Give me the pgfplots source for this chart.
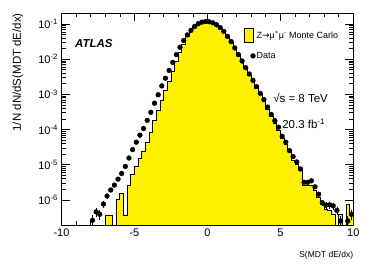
\documentclass[border=0pt]{standalone}
\usepackage{pgfplots}
\pgfplotsset{compat=1.18}
\usepackage{fontspec}
\setmainfont{Liberation Sans}
\newfontfamily\dejavu{DejaVu Sans}
\begin{document}
\begin{tikzpicture}
\begin{axis}[
  at={(0,0)}, anchor=south west,
  scale only axis, width=291.8pt, height=212pt,
  ymode=log, log origin y=infty,
  xmin=-10, xmax=10, ymin=1.93e-7, ymax=0.206,
  xtick={-10,-5,0,5,10}, minor x tick num=4,
  ytick={1e-6,1e-5,1e-4,1e-3,1e-2,1e-1},
  yticklabels={10\textsuperscript{-6},10\textsuperscript{-5},10\textsuperscript{-4},10\textsuperscript{-3},10\textsuperscript{-2},10\textsuperscript{-1}},
  /pgf/number format/assume math mode=true,
  tick label style={font=\fontsize{11}{13}\selectfont},
  major tick length=8pt, minor tick length=4pt,
  tick style={black, line width=0.6pt},
  axis line style={line width=0.8pt},
  xlabel={S(MDT dE/dx)},
  ylabel={1/N dN/dS(MDT dE/dx)},
  x label style={at={(axis description cs:1,0)}, anchor=east, yshift=-30pt, inner sep=0pt, font=\fontsize{8.5}{10}\selectfont},
  y label style={at={(axis description cs:-0.149,1)}, anchor=east, inner sep=0pt, font=\fontsize{11.5}{13}\selectfont},
  legend style={at={(axis description cs:0.625,0.93)}, anchor=north west, draw=none, fill=none, inner sep=0pt, row sep=8pt, font=\fontsize{9}{11}\selectfont, nodes={inner sep=1.2pt}},
  legend cell align=left,
]
\addplot[const plot, fill=yellow, draw=black, line width=0.8pt,
  legend image code/.code={\draw[fill=yellow,draw=black,line width=0.8pt] (0pt,-7pt) rectangle (9pt,7pt);}]
table[row sep=\\] {
x y\\
-10 1e-10\\
-7.0 3.7e-7\\
-6.75 3.7e-7\\
-6.5 1e-10\\
-6.25 1.05e-6\\
-6.0 1.5e-6\\
-5.75 3.7e-7\\
-5.5 2.51e-6\\
-5.25 5.37e-6\\
-5.0 9.12e-6\\
-4.75 1.48e-5\\
-4.5 2.45e-5\\
-4.25 4.37e-5\\
-4.0 8.32e-5\\
-3.75 1.78e-4\\
-3.5 3.47e-4\\
-3.25 6.92e-4\\
-3.0 1.29e-3\\
-2.75 2.40e-3\\
-2.5 4.57e-3\\
-2.25 8.51e-3\\
-2.0 1.55e-2\\
-1.75 2.69e-2\\
-1.5 4.37e-2\\
-1.25 6.31e-2\\
-1.0 8.32e-2\\
-0.75 0.101\\
-0.5 0.112\\
-0.25 0.116\\
0.0 0.115\\
0.25 0.107\\
0.5 0.0933\\
0.75 0.0776\\
1.0 0.0589\\
1.25 0.0427\\
1.5 0.0295\\
1.75 0.0195\\
2.0 0.0126\\
2.25 8.32e-3\\
2.5 5.37e-3\\
2.75 3.55e-3\\
3.0 2.34e-3\\
3.25 1.51e-3\\
3.5 1.0e-3\\
3.75 6.31e-4\\
4.0 3.80e-4\\
4.25 2.29e-4\\
4.5 1.48e-4\\
4.75 9.33e-5\\
5.0 5.75e-5\\
5.25 3.80e-5\\
5.5 2.63e-5\\
5.75 1.29e-5\\
6.0 1.05e-5\\
6.25 7.59e-6\\
6.5 2.51e-6\\
6.75 2.51e-6\\
7.0 2.51e-6\\
7.25 1.82e-6\\
7.5 1.17e-6\\
7.75 7.59e-7\\
8.0 5.37e-7\\
8.25 5.0e-7\\
8.5 3.98e-7\\
8.75 1e-10\\
9.0 3.89e-7\\
9.25 1e-10\\
9.5 7.59e-7\\
9.75 3.98e-7\\
10.0 3.98e-7\\
} \closedcycle;
\addlegendentry{Z{\dejavu →}μ\textsuperscript{+}μ\textsuperscript{-} Monte Carlo}
\addplot[only marks, mark=*, mark size=2.4pt, black,
  error bars/.cd, y dir=both, y explicit, error mark=none, error bar style={line width=0.7pt}]
table[row sep=\\, y error=e] {
x y e\\
-7.875 2.63e-7 1.03e-7\\
-7.625 4.57e-7 1.35e-7\\
-7.375 3.89e-7 1.25e-7\\
-7.125 7.59e-7 1.74e-7\\
-6.875 1.29e-6 2.27e-7\\
-6.625 1.91e-6 2.77e-7\\
-6.375 2.63e-6 3.2e-7\\
-6.125 3.89e-6 0\\
-5.875 5.62e-6 0\\
-5.625 8.91e-6 0\\
-5.375 1.55e-5 0\\
-5.125 2.69e-5 0\\
-4.875 4.37e-5 0\\
-4.625 6.92e-5 0\\
-4.375 1.07e-4 0\\
-4.125 1.82e-4 0\\
-3.875 3.09e-4 0\\
-3.625 5.62e-4 0\\
-3.375 9.77e-4 0\\
-3.125 1.74e-3 0\\
-2.875 2.88e-3 0\\
-2.625 4.79e-3 0\\
-2.375 8.13e-3 0\\
-2.125 1.35e-2 0\\
-1.875 2.19e-2 0\\
-1.625 3.39e-2 0\\
-1.375 4.90e-2 0\\
-1.125 6.61e-2 0\\
-0.875 8.51e-2 0\\
-0.625 0.102 0\\
-0.375 0.1135 0\\
-0.125 0.1175 0\\
0.125 0.1161 0\\
0.375 0.1084 0\\
0.625 0.0955 0\\
0.875 0.0794 0\\
1.125 0.0617 0\\
1.375 0.0447 0\\
1.625 0.0316 0\\
1.875 0.0209 0\\
2.125 0.0135 0\\
2.375 8.91e-3 0\\
2.625 5.75e-3 0\\
2.875 3.80e-3 0\\
3.125 2.51e-3 0\\
3.375 1.66e-3 0\\
3.625 1.07e-3 0\\
3.875 7.08e-4 0\\
4.125 4.37e-4 0\\
4.375 2.69e-4 0\\
4.625 1.78e-4 0\\
4.875 1.17e-4 0\\
5.125 6.46e-5 0\\
5.375 4.37e-5 0\\
5.625 2.51e-5 0\\
5.875 1.70e-5 0\\
6.125 1.20e-5 0\\
6.375 7.59e-6 0\\
6.625 3.16e-6 3.5e-7\\
6.875 3.16e-6 3.5e-7\\
7.125 3.47e-6 3.7e-7\\
7.375 2.34e-6 3.0e-7\\
7.625 1.45e-6 2.4e-7\\
7.875 8.32e-7 1.8e-7\\
8.125 7.08e-7 1.7e-7\\
8.375 7.24e-7 1.7e-7\\
8.625 6.76e-7 1.65e-7\\
8.875 5.01e-7 1.4e-7\\
9.125 2.51e-7 1.0e-7\\
9.625 2.51e-7 1.0e-7\\
9.875 3.89e-7 1.25e-7\\
};
\addlegendentry{Data}
\node[anchor=west, inner sep=0pt, font=\fontsize{11.5}{13}\selectfont\bfseries\itshape] at (rel axis cs:0.046,0.858) {ATLAS};
\node[anchor=west, inner sep=0pt, font=\fontsize{11.5}{13}\selectfont] at (rel axis cs:0.725,0.599) {√s = 8 TeV};
\node[anchor=west, inner sep=0pt, font=\fontsize{11.5}{13}\selectfont] at (rel axis cs:0.756,0.476) {20.3 fb\textsuperscript{-1}};
\end{axis}
\pgfresetboundingbox
\useasboundingbox (-61.5pt,-43pt) rectangle (312.5pt,225pt);
\end{tikzpicture}
\end{document}
